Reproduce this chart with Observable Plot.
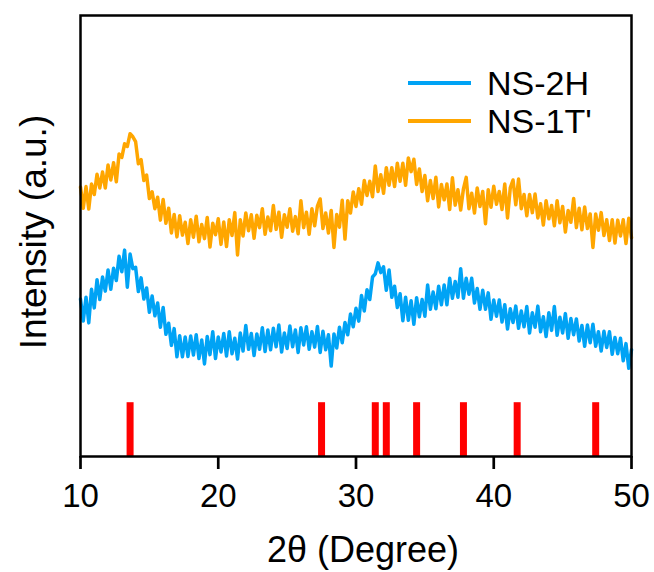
<!DOCTYPE html>
<html>
<head>
<meta charset="utf-8">
<script src="https://cdn.jsdelivr.net/npm/d3@7"></script>
<script src="https://cdn.jsdelivr.net/npm/@observablehq/plot@0.6"></script>
<style>
  html, body { margin: 0; padding: 0; background: #fff; }
  #wrap { position: relative; width: 654px; height: 572px; font-family: "Liberation Sans", Arial, sans-serif; }
  #legend { position: absolute; left: 408px; top: 64px; font-size: 34px; color: #000; }
  #legend .row { display: flex; align-items: center; height: 38px; line-height: 38px; }
  #legend .swatch { width: 63px; height: 4px; margin-right: 16px; }
</style>
</head>
<body>
<div id="wrap"><div id="legend"></div></div>
<script>
// ---- data ----
const seriesNames = ["NS-2H", "NS-1T'"];
const seriesColors = ["#00a3f5", "#ffa600"];
const twoThetaStart = 10;   // scan start (degrees)
const twoThetaStep = 0.2;   // scan step (degrees)

// NS-2H intensity (a.u.), 10°–50°
const ns2H = [
  357, 307, 361, 303, 379, 337, 401, 356, 407, 375,
  423, 379, 427, 399, 454, 419, 468, 384, 459, 426,
  429, 374, 405, 357, 382, 327, 364, 319, 348, 293,
  338, 277, 302, 252, 290, 226, 274, 226, 271, 227,
  273, 230, 276, 222, 264, 210, 272, 231, 283, 222,
  271, 237, 279, 228, 283, 233, 268, 221, 280, 239,
  297, 243, 279, 229, 278, 243, 292, 238, 287, 242,
  291, 249, 298, 237, 280, 245, 296, 249, 287, 236,
  292, 253, 294, 243, 283, 248, 295, 236, 284, 242,
  276, 205, 278, 246, 293, 258, 304, 276, 323, 294,
  336, 307, 365, 330, 378, 356, 407, 414, 439, 417,
  430, 377, 423, 361, 386, 338, 369, 308, 361, 309,
  353, 300, 360, 317, 356, 318, 389, 334, 373, 335,
  386, 344, 389, 344, 404, 359, 397, 361, 426, 359,
  404, 368, 404, 348, 381, 334, 377, 334, 371, 311,
  355, 318, 355, 305, 344, 289, 335, 304, 341, 291,
  330, 294, 340, 280, 326, 293, 341, 283, 317, 272,
  326, 286, 340, 275, 316, 280, 324, 268, 313, 276,
  312, 262, 297, 250, 298, 258, 300, 250, 283, 239,
  284, 247, 283, 232, 270, 233, 268, 217, 256, 200,
  242
];

// NS-1T' intensity (a.u.), 10°–50°
const ns1T = [
  611, 563, 612, 561, 618, 594, 640, 609, 645, 609,
  661, 627, 666, 623, 686, 678, 709, 703, 732, 725,
  714, 664, 673, 626, 638, 585, 600, 562, 588, 536,
  583, 529, 563, 507, 549, 498, 546, 502, 531, 483,
  537, 497, 545, 487, 526, 494, 542, 475, 529, 503,
  539, 481, 532, 476, 537, 501, 553, 457, 537, 500,
  552, 512, 548, 495, 547, 519, 562, 504, 543, 512,
  569, 515, 554, 497, 548, 520, 562, 511, 544, 505,
  580, 519, 554, 504, 562, 523, 568, 584, 517, 552,
  507, 558, 474, 549, 520, 581, 493, 580, 552, 600,
  567, 607, 572, 626, 592, 624, 589, 659, 601, 639,
  597, 655, 615, 655, 612, 665, 624, 665, 615, 677,
  646, 674, 617, 652, 601, 637, 580, 626, 585, 633,
  566, 617, 582, 618, 560, 632, 570, 605, 559, 607,
  633, 562, 597, 552, 609, 567, 601, 528, 605, 565,
  613, 572, 601, 560, 618, 541, 609, 627, 571, 629,
  562, 594, 546, 594, 553, 595, 541, 573, 525, 580,
  539, 569, 523, 580, 530, 567, 509, 558, 531, 585,
  519, 563, 514, 566, 517, 550, 474, 550, 513, 553,
  501, 537, 490, 537, 484, 536, 500, 537, 483, 540,
  496
];

// reference pattern stick positions (2θ) and their plotted height (a.u.)
const refPeaks = [13.6, 27.5, 31.4, 32.2, 34.4, 37.8, 41.7, 47.4];
const refHeight = 122;

const xTicks = [10, 20, 30, 40, 50];
const xTitle = "2θ (Degree)";
const yTitle = "Intensity (a.u.)";

// ---- build table ----
const rows = [];
[ns2H, ns1T].forEach((arr, k) => {
  arr.forEach((v, i) => rows.push({theta: twoThetaStart + i * twoThetaStep, intensity: v, series: seriesNames[k]}));
});

const chart = Plot.plot({
  width: 654,
  height: 572,
  marginLeft: 80,
  marginRight: 23,
  marginTop: 15,
  marginBottom: 116,
  style: {fontFamily: "'Liberation Sans', Arial, sans-serif", color: "#000", background: "#fff", overflow: "visible"},
  x: {domain: [10, 50]},
  y: {domain: [0, 1000], axis: null},
  color: {domain: seriesNames, range: seriesColors},
  marks: [
    Plot.ruleX(refPeaks, {x: d => d, y1: 0, y2: refHeight, stroke: "#ff0000", strokeWidth: 7}),
    Plot.line(rows, {x: "theta", y: "intensity", z: "series", stroke: "series", strokeWidth: 3.5, strokeLinejoin: "round"}),
    Plot.frame({stroke: "#000", strokeWidth: 2.5}),
    Plot.axisX({ticks: xTicks, tickSize: 13, tickPadding: 14, fontSize: 33, strokeWidth: 2.7, label: null}),
    Plot.text([xTitle], {text: d => d, frameAnchor: "bottom", dx: 7, dy: 94, fontSize: 36, lineAnchor: "middle"}),
    Plot.text([yTitle], {text: d => d, frameAnchor: "left", textAnchor: "middle", rotate: -90, dx: -46, dy: -4, fontSize: 37, lineAnchor: "middle"})
  ]
});

const wrap = document.getElementById("wrap");
wrap.insertBefore(chart, wrap.firstChild);

const legend = document.getElementById("legend");
seriesNames.forEach((name, k) => {
  const row = document.createElement("div");
  row.className = "row";
  const sw = document.createElement("div");
  sw.className = "swatch";
  sw.style.background = seriesColors[k];
  const label = document.createElement("span");
  label.textContent = name;
  row.appendChild(sw);
  row.appendChild(label);
  legend.appendChild(row);
});
</script>
</body>
</html>
